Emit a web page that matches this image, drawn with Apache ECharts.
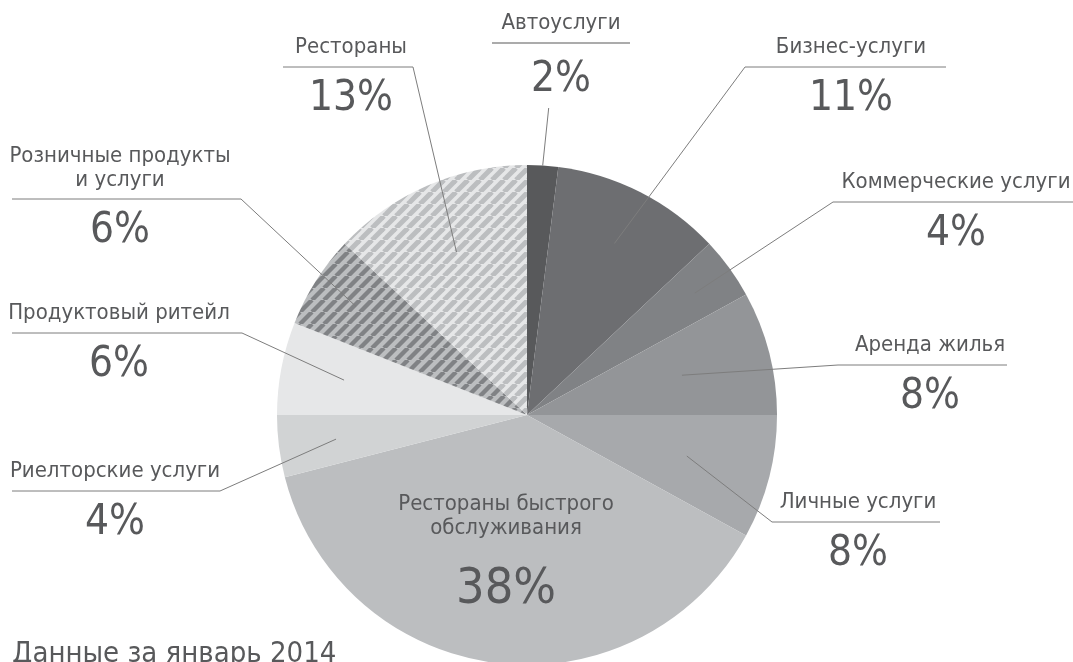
<!DOCTYPE html>
<html>
<head>
<meta charset="utf-8">
<script src="https://cdn.jsdelivr.net/npm/echarts@6/dist/echarts.min.js"></script>
<style>
  html, body { margin: 0; padding: 0; background: #fff; }
  #main { width: 1073px; height: 662px; }
</style>
</head>
<body>
<div id="main"></div>
<script>
// данные (январь 2014)
var categories = ['Автоуслуги', 'Бизнес-услуги', 'Коммерческие услуги', 'Аренда жилья', 'Личные услуги',
  'Рестораны быстрого\nобслуживания', 'Риелторские услуги', 'Продуктовый ритейл', 'Розничные продукты\nи услуги', 'Рестораны'];
var shares = [2, 11, 4, 8, 8, 38, 4, 6, 6, 13];

var sliceColors = ['#58595b', '#6d6e71', '#808285', '#939598', '#a7a9ac', '#bcbec0', '#d1d3d4', '#e6e7e8', null, null];
var FONT = "'Liberation Sans Narrow', 'DejaVu Sans Condensed', 'Roboto', sans-serif";
var TXT = '#58595b';
var CX = 527, CY = 415, R = 250;

// где стоят подписи: x - центр текста, y - линия подчеркивания, k - откуда начинается выноска (доля радиуса)
var labelSpots = [
  { x: 561, y: 43, k: 1.0, tip: 108 },
  { x: 851, y: 67, k: 0.77, u: [745, 946] },
  { x: 956, y: 202, k: 0.83, u: [833, 1073] },
  { x: 930, y: 365, k: 0.64, u: [838, 1007] },
  { x: 858, y: 522, k: 0.66, u: [772, 940] },
  { x: 506, y: 492, inside: true },
  { x: 115, y: 491, k: 0.77, u: [12, 220] },
  { x: 119, y: 333, k: 0.745, u: [12, 242] },
  { x: 120, y: 199, k: 0.81, u: [12, 241], multi: true },
  { x: 351, y: 67, k: 0.71, u: [283, 413] }
];

// штриховка
function stripes(bg, fg, w) {
  var n = 12;
  var c = document.createElement('canvas');
  c.width = n; c.height = n;
  var g = c.getContext('2d');
  g.fillStyle = bg;
  g.fillRect(0, 0, n, n);
  g.strokeStyle = fg;
  g.lineWidth = w;
  [-n, 0, n].forEach(function (o) {
    g.beginPath();
    g.moveTo(o, n);
    g.lineTo(o + n, 0);
    g.stroke();
  });
  return { image: c, repeat: 'repeat' };
}
sliceColors[8] = stripes('#bcbec0', '#808285', 4.4);
sliceColors[9] = stripes('#e6e7e8', '#bcbec0', 5);

var pieData = categories.map(function (name, i) {
  return { name: name, value: shares[i], itemStyle: { color: sliceColors[i] } };
});
// второй (прозрачный) слой только для подписей, чтобы выноски лежали поверх секторов
var labelData = categories.map(function (name, i) {
  var item = { name: name, value: shares[i] };
  if (labelSpots[i].inside) item.labelLine = { show: false };
  return item;
});

var myChart = echarts.init(document.getElementById('main'));

var option = {
  animation: false,
  backgroundColor: '#fff',
  title: {
    text: 'Данные за январь 2014',
    left: 12,
    top: 640,
    padding: 0,
    textStyle: { fontFamily: FONT, fontWeight: 'normal', fontSize: 29, color: TXT }
  },
  series: [{
    type: 'pie',
    z: 2,
    center: [CX, CY],
    radius: R,
    startAngle: 90,
    clockwise: true,
    silent: true,
    itemStyle: { borderWidth: 0 },
    label: { show: false },
    labelLine: { show: false },
    data: pieData
  }, {
    type: 'pie',
    z: 3,
    center: [CX, CY],
    radius: R,
    startAngle: 90,
    clockwise: true,
    avoidLabelOverlap: false,
    silent: true,
    itemStyle: { color: 'rgba(0,0,0,0)', borderWidth: 0 },
    data: labelData,
    label: {
      show: true,
      position: 'outside',
      color: TXT,
      fontFamily: FONT,
      formatter: function (p) {
        var s = labelSpots[p.dataIndex];
        if (s.inside) return '{nm|' + p.name + '}\n{pb|' + p.value + '%}';
        if (s.multi) return '{nm|' + p.name + '}\n{pm|' + p.value + '%}';
        if (s.tip) return '{n|' + p.name + '}\n{hr|}\n{pt|' + p.value + '%}';
        return '{n|' + p.name + '}\n{p|' + p.value + '%}';
      },
      rich: {
        n: { fontFamily: FONT, fontSize: 22, lineHeight: 30, color: TXT },
        nm: { fontFamily: FONT, fontSize: 22, lineHeight: 24, color: TXT },
        p: { fontFamily: FONT, fontSize: 42, lineHeight: 74, color: TXT },
        pm: { fontFamily: FONT, fontSize: 42, lineHeight: 78, color: TXT },
        pt: { fontFamily: FONT, fontSize: 42, lineHeight: 64, color: TXT },
        pb: { fontFamily: FONT, fontSize: 50, lineHeight: 101, color: TXT },
        hr: { width: 138, height: 0, lineHeight: 10, borderWidth: 1, borderColor: '#8f8f8f' }
      }
    },
    labelLine: {
      show: true,
      lineStyle: { color: '#7d7d7d', width: 1, opacity: 1 }
    },
    labelLayout: function (params) {
      var s = labelSpots[params.dataIndex];
      if (s.inside) {
        return { x: s.x, y: s.y, align: 'center', verticalAlign: 'top' };
      }
      var top = s.multi ? s.y - 55 : s.y - 35;
      var p0 = params.labelLinePoints && params.labelLinePoints[0];
      var start = p0 ? [CX + (p0[0] - CX) * s.k, CY + (p0[1] - CY) * s.k] : [CX, CY];
      var pts;
      if (s.tip) {
        pts = [start, [start[0] + 6, s.tip]];
      } else {
        var right = start[0] > CX;
        var nearX = right ? s.u[0] : s.u[1];
        var farX = right ? s.u[1] : s.u[0];
        pts = [start, [nearX, s.y], [farX, s.y]];
      }
      return { x: s.x, y: top, align: 'center', verticalAlign: 'top', labelLinePoints: pts };
    }
  }]
};

myChart.setOption(option);
</script>
</body>
</html>
